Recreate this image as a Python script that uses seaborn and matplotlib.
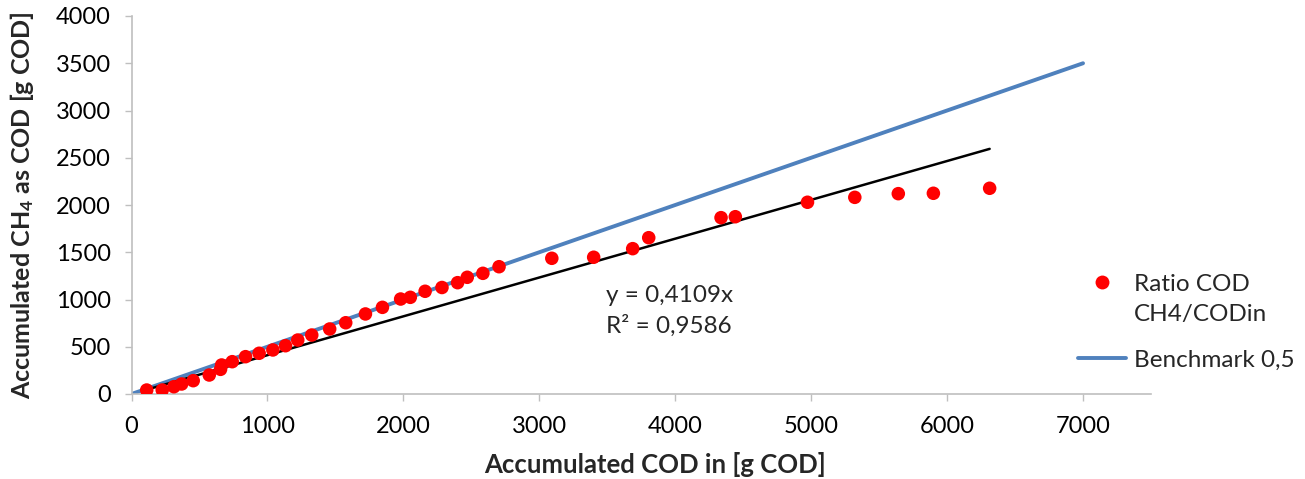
import numpy as np
import pandas as pd
import matplotlib
matplotlib.use("Agg")
import matplotlib.pyplot as plt
import seaborn as sns
from matplotlib.lines import Line2D

# Data
cod_in = [112, 226, 312, 369, 454, 572, 655, 663, 741, 839, 939, 1040, 1133, 1223,
          1326, 1458, 1576, 1721, 1846, 1980, 2051, 2160, 2284, 2399, 2470, 2585,
          2704, 3092, 3400, 3687, 3805, 4337, 4442, 4973, 5321, 5641, 5899, 6313]
ch4_cod = [42, 42, 77, 106, 141, 201, 261, 307, 342, 395, 431, 466, 511, 571,
           624, 688, 754, 847, 917, 1005, 1023, 1087, 1127, 1178, 1235, 1277,
           1347, 1436, 1447, 1538, 1654, 1866, 1876, 2029, 2081, 2120, 2124, 2177]
benchmark_x = [0, 7000]
benchmark_ratio = 0.5
trend_slope = 0.4109
r_squared = "0,9586"

x_ticks = [0, 1000, 2000, 3000, 4000, 5000, 6000, 7000]
y_ticks = [0, 500, 1000, 1500, 2000, 2500, 3000, 3500, 4000]

sns.set_theme(style="white")
plt.rcParams['font.family'] = ['Lato', 'DejaVu Sans']
plt.rcParams['mathtext.default'] = 'regular'

df = pd.DataFrame({"x": cod_in, "y": ch4_cod})
bench = pd.DataFrame({"x": benchmark_x, "y": [v * benchmark_ratio for v in benchmark_x]})
trend_x = [min(cod_in), max(cod_in)]
trend = pd.DataFrame({"x": trend_x, "y": [v * trend_slope for v in trend_x]})

fig = plt.figure(figsize=(13.05, 4.79), dpi=100)
ax = fig.add_axes([131.5 / 1305, 1 - 394 / 479, (1151 - 131.5) / 1305, (394 - 16) / 479])

sns.lineplot(data=bench, x="x", y="y", ax=ax, color="#4F81BD", linewidth=2.8,
             solid_capstyle="round", zorder=2)
sns.lineplot(data=trend, x="x", y="y", ax=ax, color="black", linewidth=1.8, zorder=3)
sns.scatterplot(data=df, x="x", y="y", ax=ax, color="#FF0000", s=95,
                edgecolor="none", linewidth=0, zorder=4)

ax.set_xlim(0, 7500)
ax.set_ylim(0, 4000)
ax.set_xticks(x_ticks)
ax.set_yticks(y_ticks)
ax.set_xticklabels([str(t) for t in x_ticks])
ax.set_yticklabels([str(t) for t in y_ticks])
ax.tick_params(axis="both", labelsize=17, colors="#000000", length=5, width=1,
               direction="out", color="#BFBFBF")
ax.tick_params(axis="x", bottom=True, pad=11)
ax.tick_params(axis="y", left=True, pad=10)
for side in ["top", "right"]:
    ax.spines[side].set_visible(False)
for side in ["left", "bottom"]:
    ax.spines[side].set_color("#BFBFBF")
    ax.spines[side].set_linewidth(1.2)

ax.set_xlabel("Accumulated COD in [g COD]", fontsize=18.5, fontweight="bold")
ax.xaxis.set_label_coords((655 - 131.5) / 1019.5, (394 - 452) / 378)
ax.set_ylabel(r"Accumulated CH$_4$ as COD [g COD]", fontsize=18, fontweight="bold",
              labelpad=14)

ax.text(3490, 1040, "y = 0,4109x", fontsize=17.5, ha="left", va="center")
ax.text(3490, 720, "R² = " + r_squared, fontsize=17.5, ha="left", va="center")

handles1 = [
    Line2D([0], [0], marker="o", color="none", markerfacecolor="#FF0000",
           markeredgecolor="none", markersize=10, label="Ratio COD"),
    Line2D([0], [0], color="none", label="CH4/CODin"),
]
leg1 = ax.legend(handles=handles1, loc="upper left",
                 bbox_to_anchor=((1068 - 131.5) / (1151 - 131.5), (394 - 264) / 378),
                 frameon=False, fontsize=17.5, handlelength=2.0, handletextpad=0.3,
                 labelspacing=0.38, borderaxespad=0)
ax.add_artist(leg1)
handles2 = [Line2D([0], [0], color="#4F81BD", linewidth=2.8, label="Benchmark 0,5")]
leg2 = ax.legend(handles=handles2, loc="center left",
                 bbox_to_anchor=((1068 - 131.5) / (1151 - 131.5), (394 - 360) / 378),
                 frameon=False, fontsize=17.5, handlelength=2.0, handletextpad=0.3,
                 borderaxespad=0)

fig.savefig("out.png", dpi=100)
